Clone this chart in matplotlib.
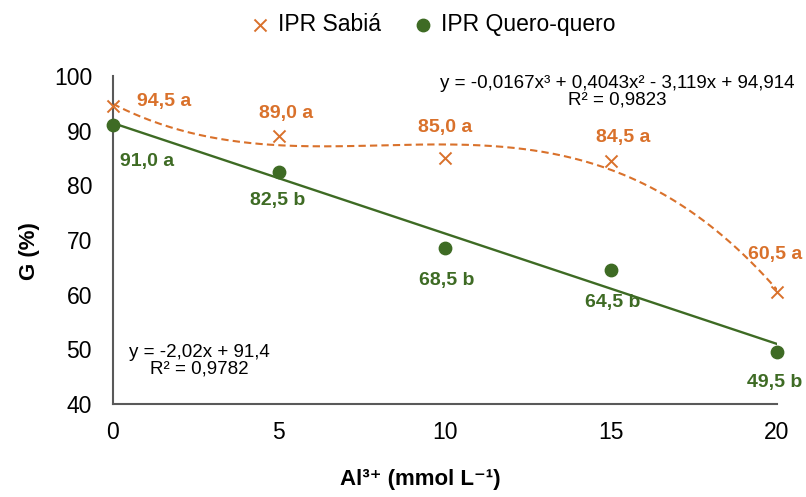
import numpy as np
import matplotlib
matplotlib.use("Agg")
import matplotlib.pyplot as plt

plt.rcParams['font.family'] = ['Liberation Sans', 'DejaVu Sans']

# data
al_doses = [0, 5, 10, 15, 20]
sabia = [94.5, 89.0, 85.0, 84.5, 60.5]
quero = [91.0, 82.5, 68.5, 64.5, 49.5]
sabia_labels = ['94,5 a', '89,0 a', '85,0 a', '84,5 a', '60,5 a']
quero_labels = ['91,0 a', '82,5 b', '68,5 b', '64,5 b', '49,5 b']
y_ticks = [40, 50, 60, 70, 80, 90, 100]

orange = '#D9712B'
green = '#3E6B24'
grey = '#595959'

fig = plt.figure(figsize=(8.06, 4.97), dpi=100)
ax = fig.add_axes([0.140, 0.187, 0.824, 0.66])

x = np.array(al_doses, dtype=float)
xs = np.linspace(0, 20, 200)

# trend lines
cub = np.polyfit(x, sabia, 3)
lin = np.polyfit(x, quero, 1)
ax.plot(xs, np.polyval(cub, xs), color=orange, lw=1.5, ls=(0, (3.5, 2)), zorder=2)
ax.plot(xs, np.polyval(lin, xs), color=green, lw=1.7, zorder=2)

ax.scatter(x, sabia, marker='x', s=75, color=orange, linewidths=1.4,
           zorder=3, clip_on=False, label='IPR Sabiá')
ax.scatter(x, quero, marker='o', s=80, color=green, zorder=3,
           clip_on=False, label='IPR Quero-quero')

# point labels (offsets in points)
s_off = [(37, 3), (5, 16), (0, 22), (9, 17), (-1.5, 27)]
q_off = [(25, -26), (-1, -21), (1, -23), (1, -23), (-2, -22)]
for xi, yi, t, o in zip(x, sabia, sabia_labels, s_off):
    ax.annotate(t, (xi, yi), xytext=o, textcoords='offset points',
                ha='center', va='center', color=orange, fontsize=14,
                fontweight='bold', annotation_clip=False)
for xi, yi, t, o in zip(x, quero, quero_labels, q_off):
    ax.annotate(t, (xi, yi), xytext=o, textcoords='offset points',
                ha='center', va='center', color=green, fontsize=14,
                fontweight='bold', annotation_clip=False)

ax.text(0.759, 0.951, 'y = -0,0167x³ + 0,4043x² - 3,119x + 94,914\nR² = 0,9823',
        transform=ax.transAxes, ha='center', va='center', fontsize=13.5,
        linespacing=0.95)
ax.text(0.130, 0.131, 'y = -2,02x + 91,4\nR² = 0,9782',
        transform=ax.transAxes, ha='center', va='center', fontsize=13.5,
        linespacing=0.95)

ax.set_xlim(0, 20)
ax.set_ylim(40, 100)
ax.set_xticks(al_doses)
ax.set_yticks(y_ticks)
ax.tick_params(length=0, labelsize=16.5, pad=12)
ax.tick_params(axis='y', pad=15)
for side in ['top', 'right']:
    ax.spines[side].set_visible(False)
for side in ['left', 'bottom']:
    ax.spines[side].set_color(grey)
    ax.spines[side].set_linewidth(1.5)

fig.text(30 / 806, 1 - 251 / 497, 'G (%)', rotation=90, ha='center',
         va='center', fontsize=16, fontweight='bold')
fig.text(420 / 806, 1 - 480 / 497, 'Al³⁺ (mmol L⁻¹)',
         ha='center', va='center', fontsize=16, fontweight='bold')

fig.legend(loc='center', bbox_to_anchor=(0.536, 0.95), ncol=2,
           frameon=False, fontsize=16.5, handletextpad=0.3,
           handlelength=1.0, columnspacing=1.3)

fig.savefig('out.png', dpi=100)
